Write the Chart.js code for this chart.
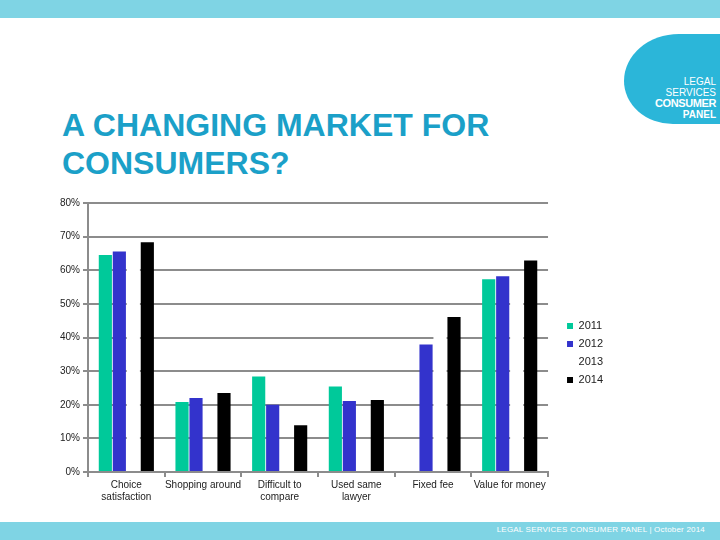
<!DOCTYPE html>
<html lang="en">
<head>
  <meta charset="UTF-8">
  <title>A changing market for consumers?</title>
  <script src="https://cdn.jsdelivr.net/npm/chart.js"></script>
  <style>
    html, body { margin: 0; padding: 0; }
    body {
      width: 720px;
      height: 540px;
      position: relative;
      overflow: hidden;
      background: #fff;
      font-family: "Liberation Sans", Arial, sans-serif;
    }
    .band { position: absolute; left: 0; width: 720px; height: 18px; background: #7fd4e4; }
    .band.top { top: 0; }
    .band.bottom { top: 522px; }
    .footer {
      position: absolute; right: 15px; top: 524px;
      color: #fff; font-size: 8px; line-height: 12px; letter-spacing: 0.2px;
    }
    h1 {
      position: absolute; left: 62px; top: 106px; margin: 0;
      color: #1ba0c8; font-size: 32px; line-height: 38px; font-weight: bold;
    }
    .logo {
      position: absolute; left: 624px; top: 34px; width: 96px; height: 90px;
      background: #2bb6d9;
      border-radius: 56px 0 0 50px / 48px 0 0 44px;
    }
    .logo div {
      position: absolute; right: 4px; color: #fff; text-align: right;
      font-size: 10px; line-height: 11px; white-space: nowrap;
    }
    .logo .l1 { top: 42px; }
    .logo .l2 { top: 53px; }
    .logo .l3 { top: 64px; font-weight: bold; font-size: 11px; letter-spacing: -0.4px; }
    .logo .l4 { top: 75px; font-weight: bold; }
    .chart-box { position: absolute; left: 0; top: 188px; width: 720px; height: 330px; }
  </style>
</head>
<body>
  <div class="band top"></div>
  <div class="logo">
    <div class="l1">LEGAL</div>
    <div class="l2">SERVICES</div>
    <div class="l3">CONSUMER</div>
    <div class="l4">PANEL</div>
  </div>
  <h1>A CHANGING MARKET FOR<br>CONSUMERS?</h1>

  <div class="chart-box">
    <canvas id="marketChart"></canvas>
  </div>

  <div class="band bottom"></div>
  <div class="footer">LEGAL SERVICES CONSUMER PANEL | October 2014</div>

  <script>
    // categories and survey results (% of consumers)
    const categories = [
      ["Choice", "satisfaction"],
      "Shopping around",
      ["Difficult to", "compare"],
      ["Used same", "lawyer"],
      "Fixed fee",
      "Value for money"
    ];
    const years = ["2011", "2012", "2013", "2014"];
    const values2011 = [64.5, 20.8, 28.4, 25.4, null, 57.3];
    const values2012 = [65.6, 22.0, 20.0, 21.1, 37.9, 58.2];
    const values2013 = [66.0, null, null, null, 45.0, 58.0];
    const values2014 = [68.3, 23.5, 13.9, 21.4, 46.1, 62.9];
    const yTicks = [0, 10, 20, 30, 40, 50, 60, 70, 80];

    const colours = ["#00c99a", "#3333cc", "#ffffff", "#000000"];
    const gridGrey = "#8c8c8c";
    const font = { family: "'Liberation Sans', Arial, sans-serif", size: 10 };

    const series = [values2011, values2012, values2013, values2014];

    new Chart(document.getElementById("marketChart"), {
      type: "bar",
      data: {
        labels: categories,
        datasets: series.map((vals, i) => ({
          label: years[i],
          data: vals,
          backgroundColor: colours[i],
          borderWidth: 0,
          categoryPercentage: 0.73,
          barPercentage: 0.94
        }))
      },
      options: {
        responsive: true,
        maintainAspectRatio: false,
        animation: false,
        layout: { padding: { left: 58, top: 15, right: 107, bottom: 15 } },
        plugins: {
          tooltip: { enabled: false },
          legend: {
            position: "right",
            labels: {
              boxWidth: 6,
              boxHeight: 6,
              padding: 7,
              color: "#222",
              font: { family: font.family, size: 11 }
            }
          }
        },
        scales: {
          x: {
            offset: true,
            afterFit: s => { s.height = 31; },
            grid: {
              offset: true,
              drawOnChartArea: false,
              drawTicks: true,
              tickLength: 5,
              color: gridGrey,
              lineWidth: 2
            },
            border: { color: gridGrey, width: 2 },
            ticks: { color: "#222", font: font, maxRotation: 0, autoSkip: false, padding: 2 }
          },
          y: {
            min: 0,
            max: 80,
            afterBuildTicks: s => { s.ticks = yTicks.map(v => ({ value: v })); },
            afterFit: s => { s.width = 30; },
            grid: { color: gridGrey, lineWidth: 2, tickLength: 5 },
            border: { color: gridGrey, width: 2 },
            ticks: { color: "#222", font: font, padding: 3, callback: v => v + "%" }
          },
          // empty spacer between the plot and the legend
          gap: {
            position: "right",
            display: true,
            grid: { display: false },
            border: { display: false },
            ticks: { display: false },
            afterFit: s => { s.width = 12; }
          }
        }
      }
    });
  </script>
</body>
</html>
